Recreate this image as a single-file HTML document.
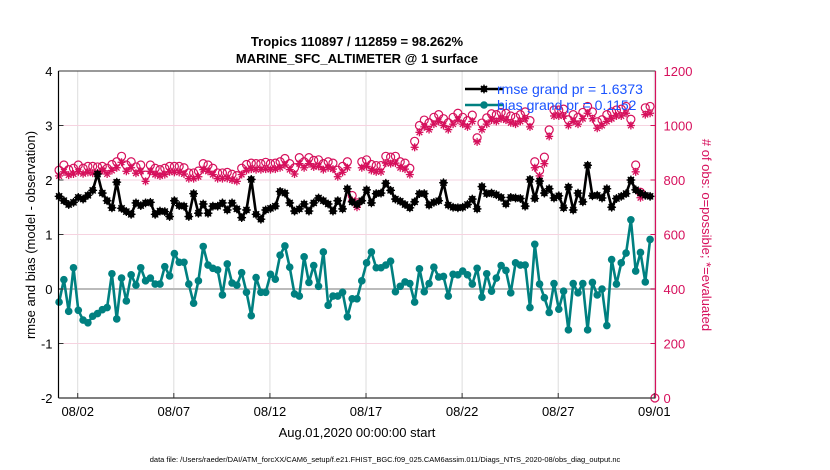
<!DOCTYPE html>
<html><head><meta charset="utf-8"><style>
html,body{margin:0;padding:0;background:#fff;}
svg{display:block;font-family:"Liberation Sans",Arial,sans-serif;}
</style></head><body>
<svg id="chart" width="830" height="470" viewBox="0 0 830 470" xmlns="http://www.w3.org/2000/svg">
<text x="357" y="46" text-anchor="middle" font-size="13" font-weight="bold">Tropics 110897 / 112859 = 98.262%</text>
<text x="357" y="63" text-anchor="middle" font-size="13" font-weight="bold">MARINE_SFC_ALTIMETER @ 1 surface</text>
<g id="grid"></g>
<g id="marks"></g>
<g id="axes"></g>
<text transform="translate(35,235) rotate(-90)" text-anchor="middle" font-size="13">rmse and bias (model - observation)</text>
<text transform="translate(702,235) rotate(90)" text-anchor="middle" font-size="13" fill="#d6105c"># of obs: o=possible; *=evaluated</text>
<text x="357" y="437" text-anchor="middle" font-size="13">Aug.01,2020 00:00:00 start</text>
<text x="385" y="462" text-anchor="middle" font-size="7.5">data file: /Users/raeder/DAI/ATM_forcXX/CAM6_setup/f.e21.FHIST_BGC.f09_025.CAM6assim.011/Diags_NTrS_2020-08/obs_diag_output.nc</text>
<g id="legend"></g>
</svg>
<script>
const xTickLabels = ["08/02","08/07","08/12","08/17","08/22","08/27","09/01"];
const xTickDays = [1,6,11,16,21,26,31];
const yTicksLeft = [4,3,2,1,0,-1,-2];
const yTicksRight = [0,200,400,600,800,1000,1200];
const bias = [-0.24,0.17,-0.41,0.39,-0.39,-0.57,-0.62,-0.5,-0.45,-0.38,-0.34,0.28,-0.55,0.2,-0.22,0.26,0.07,0.39,0.15,0.2,0.09,0.09,0.41,0.24,0.65,0.49,0.49,0.09,-0.26,0.15,0.78,0.44,0.38,0.35,-0.11,0.46,0.11,0.07,0.3,-0.06,-0.49,0.21,-0.06,
-0.06,0.27,0.18,0.62,0.79,0.4,-0.09,-0.13,0.59,0.12,0.43,0.05,0.68,-0.3,-0.13,-0.13,-0.06,-0.51,-0.18,-0.18,0.15,0.48,0.68,0.39,0.39,0.44,0.51,-0.05,0.05,0.13,0.1,-0.24,0.37,-0.05,0.1,0.4,0.22,0.23,-0.13,0.27,0.26,0.33,
0.26,0.09,0.38,-0.15,0.28,-0.04,0.2,0.43,0.34,-0.07,0.48,0.44,0.44,-0.34,0.82,0.09,-0.16,-0.43,0.1,-0.37,-0.04,-0.75,0.1,-0.07,0.1,-0.75,0.12,-0.11,0,-0.67,0.54,0.09,0.48,0.66,1.27,0.33,0.67,0.13,0.91];
const rmse = [1.7,1.62,1.55,1.59,1.68,1.65,1.72,1.81,2.11,1.76,1.62,1.49,1.96,1.48,1.42,1.37,1.58,1.53,1.58,1.59,1.37,1.43,1.42,1.33,1.62,1.53,1.52,1.33,1.75,1.39,1.56,1.39,1.52,1.52,1.58,1.45,1.58,1.47,1.31,1.45,2.01,1.37,1.28,
1.45,1.48,1.52,1.79,1.76,1.58,1.43,1.47,1.56,1.43,1.58,1.67,1.62,1.56,1.43,1.62,1.47,1.84,1.6,1.55,1.62,1.82,1.58,1.75,1.76,1.94,1.81,1.65,1.61,1.55,1.49,1.6,1.75,1.75,1.54,1.59,1.62,1.95,1.54,1.5,1.49,1.5,
1.55,1.65,1.47,1.88,1.75,1.76,1.73,1.68,1.56,1.68,1.67,1.66,1.52,2.01,1.66,1.98,1.76,1.84,1.67,1.71,1.49,1.87,1.45,1.76,1.6,2.27,1.71,1.72,1.67,1.84,1.5,1.66,1.7,1.75,2.0,1.82,1.76,1.72,1.7];
const possible = [836,855,838,843,855,843,850,850,848,850,843,857,867,887,855,867,848,855,818,855,843,838,843,850,850,850,845,826,826,833,860,855,843,826,826,828,821,816,843,857,862,860,860,
865,860,862,867,879,860,845,882,867,882,872,874,860,867,862,836,850,867,743,716,867,874,857,853,853,887,884,887,867,862,843,942,1000,1020,1010,1030,1040,1025,1010,1030,1045,1030,
1018,1038,955,1009,1028,1043,1040,1048,1045,1035,1030,1040,1050,1018,867,835,884,984,1057,1057,1060,1021,1040,1030,1048,1070,1050,1014,1021,1040,1050,1057,1060,1070,1023,855,755,1065,1070,0];
const evaluated = [815,830,818,822,830,823,828,825,826,835,822,835,845,865,832,845,825,832,795,832,820,815,820,830,828,828,822,805,805,812,838,832,820,805,805,806,800,795,820,835,840,838,838,
840,838,840,845,855,838,822,860,845,860,848,850,838,845,840,812,828,845,725,700,845,850,835,830,830,862,860,862,845,840,820,920,975,995,985,1005,1015,1000,985,1005,1020,1005,
995,1015,940,985,1005,1020,1015,1025,1020,1010,1005,1015,1025,995,845,815,860,960,1035,1035,1035,1000,1015,1005,1025,1045,1025,990,1000,1015,1025,1035,1035,1045,1000,830,735,1040,1045,null];

const NS="http://www.w3.org/2000/svg";
const X0=58.5, PX_PER_DAY=19.22, LEFT=58.5, RIGHT=655.5, TOP=71, BOT=398;
function xDay(d){return X0+PX_PER_DAY*d;}
function xIdx(i){return xDay(0.03+i*0.25);}
function yL(v){return TOP+(4-v)*(BOT-TOP)/6;}
function yR(v){return BOT-v*(BOT-TOP)/1200;}
function mk(tag,attrs,parent){const e=document.createElementNS(NS,tag);for(const k in attrs)e.setAttribute(k,attrs[k]);parent.appendChild(e);return e;}
const grid=document.getElementById('grid'), marks=document.getElementById('marks'), axes=document.getElementById('axes'), legend=document.getElementById('legend');

xTickDays.forEach((d,i)=>{
  const l=mk('line',{x1:xDay(d),x2:xDay(d),y1:TOP,y2:BOT,stroke:'#dcdcdc','stroke-width':1},grid);
  
  
  const t=mk('line',{x1:xDay(d),x2:xDay(d),y1:BOT,y2:BOT-5,stroke:'#333','stroke-width':1},axes);
  
  
  const tx=mk('text',{x:xDay(d),y:BOT+18,'text-anchor':'middle','font-size':13},axes);
  tx.textContent=xTickLabels[i];
  
  
});
yTicksRight.forEach(v=>{
  if(v>0&&v<1200){
    const l=mk('line',{x1:LEFT,x2:RIGHT,y1:yR(v),y2:yR(v),stroke:'#f6d3e0','stroke-width':1},grid);
    
    
  }
  const t=mk('line',{x1:RIGHT,x2:RIGHT-5,y1:yR(v),y2:yR(v),stroke:'#d6105c','stroke-width':1},axes);
  
  
  const tx=mk('text',{x:RIGHT+8,y:yR(v)+5,'font-size':13,fill:'#d6105c'},axes);
  tx.textContent=v;
  
  
});
yTicksLeft.forEach(v=>{
  const t=mk('line',{x1:LEFT,x2:LEFT+5,y1:yL(v),y2:yL(v),stroke:'#333','stroke-width':1},axes);
  
  
  const tx=mk('text',{x:LEFT-6,y:yL(v)+5,'text-anchor':'end','font-size':13},axes);
  tx.textContent=v;
  
  
});
const zl=mk('line',{x1:LEFT,x2:RIGHT,y1:yL(0),y2:yL(0),stroke:'#bbbbbb','stroke-width':2},grid);



function star(cx,cy,r,color,parent,name){
  const g=mk('g',{stroke:color,'stroke-width':1.3},parent);
  
  
  for(let k=0;k<4;k++){const a=k*Math.PI/4;mk('line',{x1:cx-r*Math.cos(a),y1:cy-r*Math.sin(a),x2:cx+r*Math.cos(a),y2:cy+r*Math.sin(a)},g);}
}
possible.forEach((v,i)=>{
  if(v===null)return;
  const c=mk('circle',{cx:xIdx(i),cy:yR(v),r:4,fill:'none',stroke:'#d6105c','stroke-width':1.2},marks);
  
  
});
evaluated.forEach((v,i)=>{
  if(v===null)return;
  star(xIdx(i),yR(v),4,'#d6105c',marks,'evaluated-point');
});
function series(arr,color,name,isStar){
  const pts=arr.map((v,i)=>xIdx(i).toFixed(1)+','+yL(v).toFixed(1)).join(' ');
  const pl=mk('polyline',{points:pts,fill:'none',stroke:color,'stroke-width':2.6,'stroke-linejoin':'round'},marks);
  
  
  arr.forEach((v,i)=>{
    const c=mk('circle',{cx:xIdx(i),cy:yL(v),r:isStar?3.4:3.8,fill:color},marks);
    
    
    if(isStar) star(xIdx(i),yL(v),4.4,color,marks,name+'-point-star');
  });
}
series(rmse,'#000000','rmse',true);
series(bias,'#008080','bias',false);

const at=mk('line',{x1:LEFT,x2:RIGHT,y1:TOP,y2:TOP,stroke:'#333','stroke-width':1},axes);


const al=mk('line',{x1:LEFT,x2:LEFT,y1:TOP,y2:BOT,stroke:'#000','stroke-width':1.2},axes);


const ab=mk('line',{x1:LEFT,x2:RIGHT,y1:BOT,y2:BOT,stroke:'#333','stroke-width':1.2},axes);


const ar=mk('line',{x1:RIGHT,x2:RIGHT,y1:TOP,y2:BOT,stroke:'#d6105c','stroke-width':1.2},axes);



const lg1=mk('line',{x1:465,x2:503,y1:89,y2:89,stroke:'#000','stroke-width':2.6},legend);


const lc1=mk('circle',{cx:484,cy:89,r:3.4,fill:'#000'},legend);


star(484,89,4.4,'#000',legend,'legend-rmse-star');
const lt1=mk('text',{x:497,y:94,'font-size':14,fill:'#1a53ff'},legend);
lt1.textContent='rmse grand pr = 1.6373';


const lg2=mk('line',{x1:465,x2:503,y1:105,y2:105,stroke:'#008080','stroke-width':2.6},legend);


const lc2=mk('circle',{cx:484,cy:105,r:3.8,fill:'#008080'},legend);


const lt2=mk('text',{x:497,y:110,'font-size':14,fill:'#1a53ff'},legend);
lt2.textContent='bias grand pr = 0.1152';


</script>
</body></html>
